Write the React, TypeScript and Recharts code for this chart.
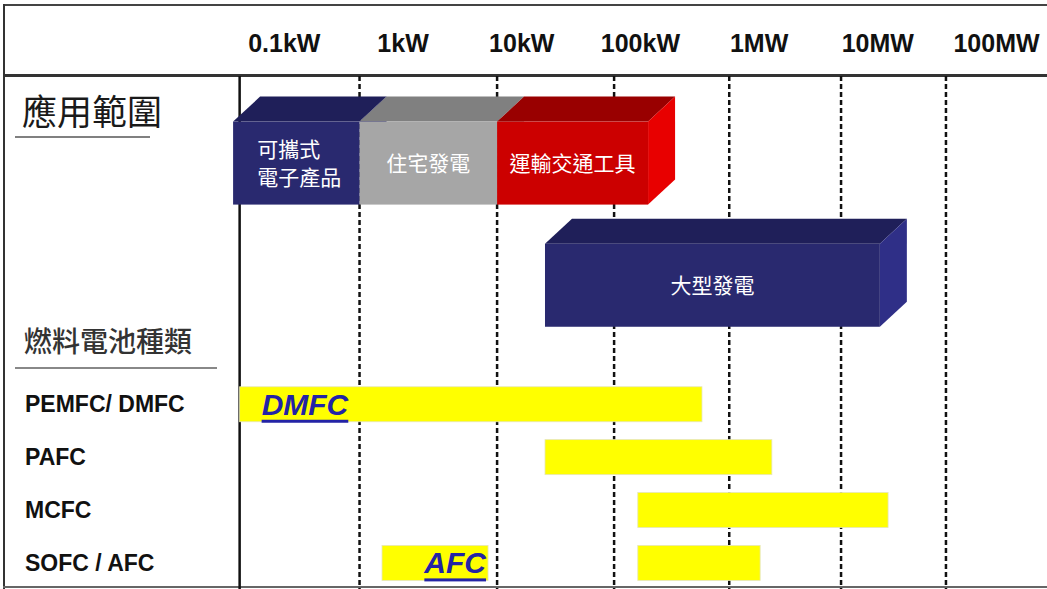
import React from 'react';
import { BarChart, Bar, XAxis, YAxis, CartesianGrid } from 'recharts';

// power scale (kW) — axis labels in the header
const tickKW = [0.1, 1, 10, 100, 1000, 10000, 100000];
const tickLabels = ['0.1kW', '1kW', '10kW', '100kW', '1MW', '10MW', '100MW'];
// dashed guides and the solid start line (kW)
const guideKW = [0.43, 6.2, 60, 560, 4900, 37500];
const axisStartKW = 0.042;

// 應用範圍 (application range)
const appNames = ['可攜式\n電子產品', '住宅發電', '運輸交通工具', '大型發電'];
const appRow = [1.44, 1.44, 1.44, 3.75];
const appFromKW = [0.037, 0.43, 6.2, 15.7];
const appToKW = [0.43, 6.2, 116, 10400];

// 燃料電池種類 (fuel cell types)
const fuelTypes = ['PEMFC/ DMFC', 'PAFC', 'MCFC', 'SOFC / AFC'];
const fuelTypeRow = [6, 7, 8, 9];
const fuelRow = [6, 7, 8, 9, 9];
const fuelFromKW = [0.042, 15.7, 95, 95, 0.665];
const fuelToKW = [330, 1280, 12200, 1020, 5.2];
const fuelTags = ['DMFC', '', '', '', 'AFC'];

const lg = (v: number) => Math.log10(v);
const X_DOMAIN = [-1.5, 5.4];

const data = [
  ...appNames.map((name, i) => ({
    kind: 'app',
    name,
    idx: i,
    row: appRow[i],
    span: [lg(appFromKW[i]), lg(appToKW[i])],
  })),
  ...fuelRow.map((row, i) => ({
    kind: 'fuel',
    name: fuelTags[i],
    idx: i,
    row,
    span: [lg(fuelFromKW[i]), lg(fuelToKW[i])],
  })),
];

const boxColors = [
  { front: '#29296f', top: '#1f1f59', side: '#2f2f87' },
  { front: '#a6a6a6', top: '#808080', side: '#bcbcbc' },
  { front: '#cc0000', top: '#990000', side: '#e80000' },
  { front: '#29296f', top: '#1f1f59', side: '#2f2f87' },
];
const tagAnchor: Record<string, 'start' | 'end'> = { DMFC: 'start', AFC: 'end' };

const CJK = "'Noto Sans CJK TC', 'Noto Sans CJK SC', sans-serif";
const LATIN = "'Liberation Sans', Arial, sans-serif";
const DX = 27;
const DY = 25;
const BOX_H = 83;
const FUEL_H = 35;

// vertical grid positions through the x axis scale
const kwLines = (values: number[]) => ({ xAxis, offset }: any) => {
  const s = xAxis?.scale;
  if (typeof s === 'function') return values.map((v) => s(lg(v)));
  return values.map((v) => offset.left + ((lg(v) - X_DOMAIN[0]) / (X_DOMAIN[1] - X_DOMAIN[0])) * offset.width);
};

function Box3D({ x, width, cy, payload }: any) {
  const c = boxColors[payload.idx];
  const y = cy - BOX_H / 2;
  const h = BOX_H;
  const lines: string[] = payload.name.split('\n');
  const fs = 21;
  const cx = x + width / 2;
  const longest = Math.max(...lines.map((l) => l.length));
  const multi = lines.length > 1;
  const tx = multi ? cx - (longest * fs) / 2 + 3 : cx;
  return (
    <g>
      <polygon points={`${x},${y} ${x + DX},${y - DY} ${x + width + DX},${y - DY} ${x + width},${y}`} fill={c.top} />
      <polygon
        points={`${x + width},${y} ${x + width + DX},${y - DY} ${x + width + DX},${y + h - DY} ${x + width},${y + h}`}
        fill={c.side}
      />
      <rect x={x} y={y} width={width} height={h} fill={c.front} />
      {lines.map((l, k) => (
        <text
          key={k}
          x={tx}
          y={cy + (k - (lines.length - 1) / 2) * 28 - 1}
          dominantBaseline="central"
          fill="#fff"
          fontFamily={CJK}
          fontSize={fs}
          textAnchor={multi ? 'start' : 'middle'}
        >
          {l}
        </text>
      ))}
    </g>
  );
}

function FuelBar({ x, width, cy, payload }: any) {
  const tag: string = payload.name;
  const anchor = tagAnchor[tag];
  const y = cy - FUEL_H / 2;
  return (
    <g>
      <rect x={x} y={y} width={width} height={FUEL_H} fill="#ffff00" stroke="#e6e6b8" strokeWidth={0.8} />
      {tag ? (
        <text
          x={anchor === 'start' ? x + 22 : x + width - 2}
          y={cy}
          textAnchor={anchor}
          dominantBaseline="central"
          fill="#2323a6"
          fontFamily={LATIN}
          fontWeight="bold"
          fontStyle="italic"
          fontSize={30}
          style={{ textDecoration: 'underline', textUnderlineOffset: '4px' }}
        >
          {tag}
        </text>
      ) : null}
    </g>
  );
}

function RangeShape(props: any) {
  const { x, y, width, height, payload } = props;
  if (x == null || !isFinite(x) || !isFinite(y)) return null;
  const cy = y + height / 2;
  return payload.kind === 'app' ? (
    <Box3D x={x} width={width} cy={cy} payload={payload} />
  ) : (
    <FuelBar x={x} width={width} cy={cy} payload={payload} />
  );
}

function HeaderTick(props: any) {
  const { x, payload } = props;
  const i = tickKW.findIndex((v) => Math.abs(lg(v) - payload.value) < 1e-6);
  return (
    <text x={x} y={43} textAnchor="middle" dominantBaseline="central" fontFamily={LATIN} fontWeight="bold" fontSize={25} fill="#111">
      {tickLabels[i]}
    </text>
  );
}

function FuelTick(props: any) {
  const { y, payload } = props;
  const i = fuelTypeRow.indexOf(payload.value);
  return (
    <text x={25} y={y} dominantBaseline="central" fontFamily={LATIN} fontWeight="bold" fontSize={23} fill="#111">
      {fuelTypes[i]}
    </text>
  );
}

export default function App() {
  return (
    <div style={{ position: 'relative', width: 1047, height: 589, background: '#fff', fontFamily: LATIN }}>
      <style>{'body{margin:0}'}</style>
      {/* frame */}
      <div style={{ position: 'absolute', left: 3, top: 4, width: 1044, height: 2, background: '#444' }} />
      <div style={{ position: 'absolute', left: 3, top: 4, width: 2, height: 585, background: '#333' }} />
      <div style={{ position: 'absolute', left: 3, top: 74, width: 1044, height: 3, background: '#333' }} />
      <div style={{ position: 'absolute', left: 3, top: 586, width: 1044, height: 2, background: '#666' }} />

      <div style={{ position: 'absolute', left: 0, top: 0, width: 1047, height: 589 }}>
        <BarChart
          width={1047}
          height={589}
          data={data}
          layout="vertical"
          margin={{ top: 0, right: 3, bottom: 0, left: 0 }}
        >
          <CartesianGrid
            horizontal={false}
            verticalCoordinatesGenerator={kwLines(guideKW)}
            stroke="#111"
            strokeWidth={2.5}
            strokeDasharray="5 3"
          />
          <CartesianGrid horizontal={false} verticalCoordinatesGenerator={kwLines([axisStartKW])} stroke="#111" strokeWidth={2.5} />
          <XAxis
            type="number"
            orientation="top"
            height={76}
            domain={X_DOMAIN}
            ticks={tickKW.map(lg)}
            interval={0}
            axisLine={false}
            tickLine={false}
            tick={<HeaderTick />}
          />
          <YAxis
            type="number"
            dataKey="row"
            domain={[-0.2, 9.5]}
            ticks={fuelTypeRow}
            interval={0}
            width={225}
            axisLine={false}
            tickLine={false}
            tick={<FuelTick />}
          />

          <Bar dataKey="span" barSize={BOX_H} shape={<RangeShape />} isAnimationActive={false} />
        </BarChart>
      </div>

      {/* left column headings */}
      <div style={{ position: 'absolute', left: 22, top: 92, fontFamily: CJK, fontSize: 35, lineHeight: 1, color: '#1a1a1a' }}>應用範圍</div>
      <div style={{ position: 'absolute', left: 15, top: 136, width: 135, height: 2, background: '#808080' }} />
      <div style={{ position: 'absolute', left: 24, top: 326, fontFamily: CJK, fontSize: 28, lineHeight: 1, color: '#333', fontWeight: 500 }}>燃料電池種類</div>
      <div style={{ position: 'absolute', left: 15, top: 367, width: 202, height: 2, background: '#888' }} />
    </div>
  );
}
